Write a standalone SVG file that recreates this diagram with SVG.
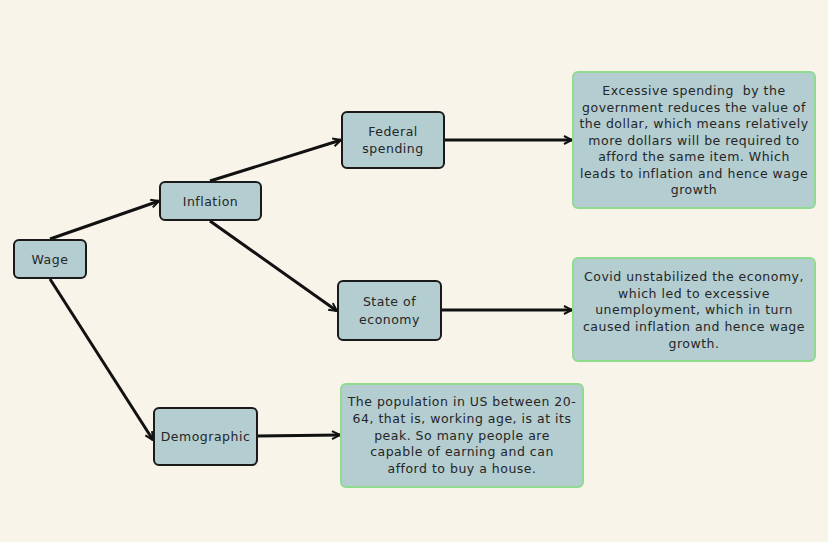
<svg xmlns="http://www.w3.org/2000/svg" width="828" height="542" viewBox="0 0 828 542">
  <defs>
    <marker id="arrow" viewBox="0 0 10 10" refX="9" refY="5" markerWidth="10" markerHeight="10" markerUnits="userSpaceOnUse" orient="auto">
      <path d="M1,1 L9,5 L1,9" fill="none" stroke="#111" stroke-width="2"/>
    </marker>
    <style>
      .node { fill: #b3cdd1; stroke: #1a1a1a; stroke-width: 2; }
      .note { fill: #b3cdd1; stroke: #8fdc8f; stroke-width: 2; }
      .label { font-family: "DejaVu Sans", sans-serif; font-size: 12.5px; fill: #262626; text-anchor: middle; letter-spacing: 0.5px; white-space: pre; }
      .edge { stroke: #111; stroke-width: 3; fill: none; marker-end: url(#arrow); }
    </style>
  </defs>
  <rect width="828" height="542" fill="#f8f4ea"/>

  <g id="connectors">
    <line class="edge" x1="50" y1="239" x2="159" y2="201"/>
    <line class="edge" x1="210" y1="181" x2="341" y2="140"/>
    <line class="edge" x1="210" y1="221" x2="337" y2="311"/>
    <line class="edge" x1="50" y1="279" x2="153" y2="440"/>
    <line class="edge" x1="444" y1="140" x2="572" y2="140"/>
    <line class="edge" x1="441" y1="310" x2="572" y2="310"/>
    <line class="edge" x1="257" y1="436" x2="340" y2="435"/>
  </g>

  <g id="wage">
    <rect class="node" x="14" y="240" width="72" height="38" rx="5"/>
    <text class="label" x="50" y="263.5">Wage</text>
  </g>
  <g id="inflation">
    <rect class="node" x="160" y="182" width="101" height="38" rx="5"/>
    <text class="label" x="210.5" y="205.5">Inflation</text>
  </g>
  <g id="federal-spending">
    <rect class="node" x="342" y="112" width="102" height="56" rx="5"/>
    <text class="label" x="393" y="136">Federal</text>
    <text class="label" x="393" y="153">spending</text>
  </g>
  <g id="state-of-economy">
    <rect class="node" x="338" y="281" width="103" height="59" rx="5"/>
    <text class="label" x="389.5" y="306">State of</text>
    <text class="label" x="389.5" y="324">economy</text>
  </g>
  <g id="demographic">
    <rect class="node" x="154" y="408" width="103" height="57" rx="5"/>
    <text class="label" x="205.5" y="441">Demographic</text>
  </g>

  <g id="note-federal">
    <rect class="note" x="573" y="72" width="242" height="136" rx="5"/>
    <text class="label" x="694" y="95">Excessive spending  by the</text>
    <text class="label" x="694" y="111.5">government reduces the value of</text>
    <text class="label" x="694" y="128">the dollar, which means relatively</text>
    <text class="label" x="694" y="144.5">more dollars will be required to</text>
    <text class="label" x="694" y="161">afford the same item. Which</text>
    <text class="label" x="694" y="177.5">leads to inflation and hence wage</text>
    <text class="label" x="694" y="194">growth</text>
  </g>
  <g id="note-economy">
    <rect class="note" x="573" y="258" width="242" height="103" rx="5"/>
    <text class="label" x="694" y="281">Covid unstabilized the economy,</text>
    <text class="label" x="694" y="298">which led to excessive</text>
    <text class="label" x="694" y="314">unemployment, which in turn</text>
    <text class="label" x="694" y="331">caused inflation and hence wage</text>
    <text class="label" x="694" y="348">growth.</text>
  </g>
  <g id="note-demographic">
    <rect class="note" x="341" y="384" width="242" height="103" rx="5"/>
    <text class="label" x="462" y="406">The population in US between 20-</text>
    <text class="label" x="462" y="423">64, that is, working age, is at its</text>
    <text class="label" x="462" y="440">peak. So many people are</text>
    <text class="label" x="462" y="456">capable of earning and can</text>
    <text class="label" x="462" y="473">afford to buy a house.</text>
  </g>
</svg>
